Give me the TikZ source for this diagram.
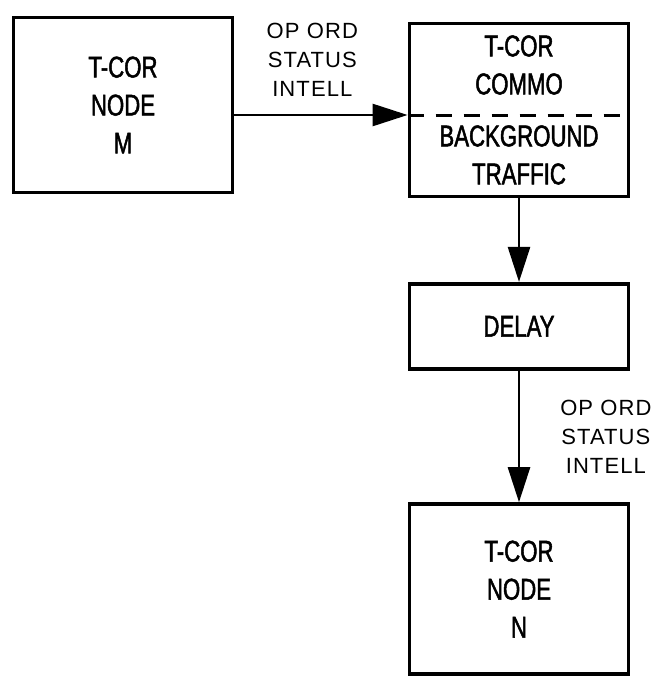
\documentclass[tikz,border=0pt]{standalone}
\usepackage{fontspec}
\setmainfont{Liberation Sans}
\newfontfamily\boxfont{Liberation Sans}[FakeStretch=0.74, FakeBold=1.6]
\newfontfamily\labelfont{Liberation Sans}[LetterSpace=5]
\usetikzlibrary{positioning,arrows.meta}
\begin{document}
\begin{tikzpicture}[
    x=1pt, y=1pt,
    node distance=2cm,
    nodebox/.style={rectangle, draw, line width=3.8pt, minimum width=219pt, align=center,
        font=\boxfont\fontsize{30}{38}\selectfont},
    arrow/.style={-{Triangle[length=35pt, width=22pt]}, line width=2.5pt},
    flowlabel/.style={align=center, inner sep=0pt, font=\labelfont\fontsize{22}{29}\selectfont}
]
\useasboundingbox (0,0) rectangle (655,-677);
\node[nodebox, minimum height=175pt] (nodem) at (123,-105) {T-COR\\NODE\\M};
\node[nodebox, minimum height=173pt] (commo) at (519,-110) {T-COR\\COMMO\\[14pt]BACKGROUND\\TRAFFIC};
\node[nodebox, minimum height=85pt, below=83.5pt of commo] (delay) {DELAY};
\node[nodebox, minimum height=170pt, below=131.5pt of delay] (noden) {T-COR\\NODE\\N};

\coordinate (split) at ([yshift=-5pt]commo.west);
\draw[line width=3pt, dash pattern=on 16pt off 12pt] (split) -- ([yshift=-5pt]commo.east);

\draw[arrow] (nodem.east |- split) -- node[flowlabel, pos=0.45, above=17pt] {OP ORD\\STATUS\\INTELL} (split);
\draw[arrow] (commo) -- (delay);
\draw[arrow] (delay) -- node[flowlabel, right=40pt] {OP ORD\\STATUS\\INTELL} (noden);
\end{tikzpicture}
\end{document}
